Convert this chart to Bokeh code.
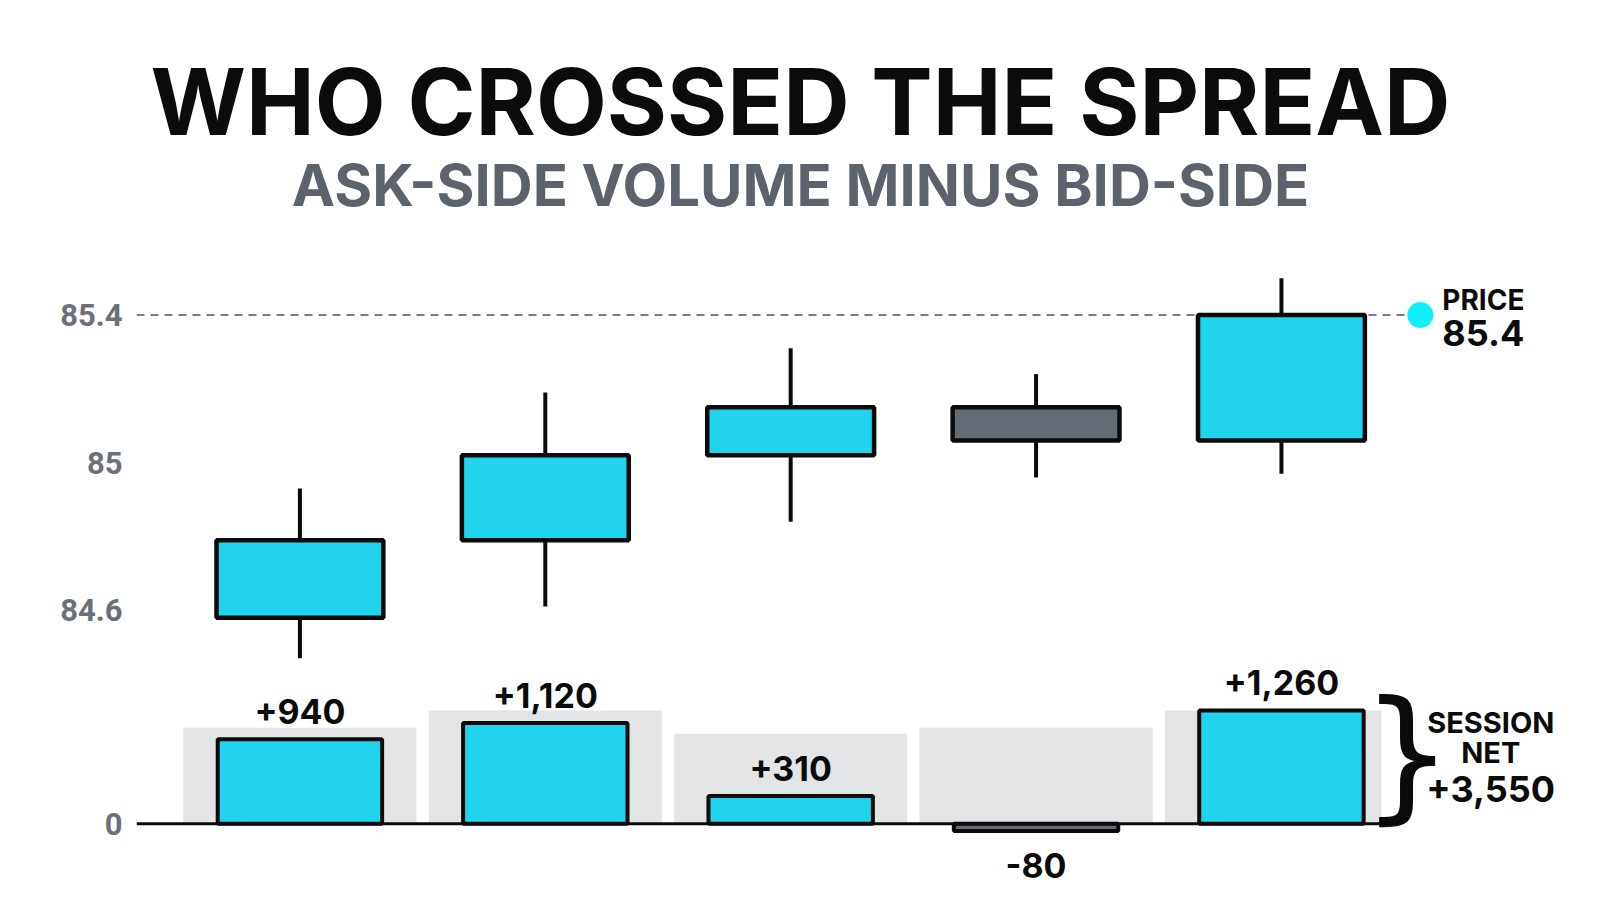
from bokeh.plotting import figure
from bokeh.models import Range1d, FixedTicker, ColumnDataSource, NumeralTickFormatter
from bokeh.layouts import column
from bokeh.embed import file_html
from bokeh.resources import INLINE
from bokeh.core.properties import value

# ---------------- data ----------------
sessions = [0, 1, 2, 3, 4]
opens = [84.58, 84.79, 85.02, 85.15, 85.06]
closes = [84.79, 85.02, 85.15, 85.06, 85.40]
highs = [84.93, 85.19, 85.31, 85.24, 85.50]
lows = [84.47, 84.61, 84.84, 84.96, 84.97]
net_delta = [940, 1120, 310, -80, 1260]
backdrop = [1067, 1260, 1000, 1067, 1260]
price_ticks = [84.6, 85.0, 85.4]
delta_ticks = [0]

TITLE = "WHO CROSSED THE SPREAD"
SUBTITLE = "ASK-SIDE VOLUME MINUS BID-SIDE"

# ---------------- style ----------------
CYAN = "#22d3ee"
DOWN = "#646b74"
DOT = "#12eefc"
GREY_BG = "#e2e4e6"
AXIS_GREY = "#6b7079"
SUB_GREY = "#5d636c"
INK = "#0b0b0b"
FONT = "Inter"
W = 1596
LEFT = 136

up = [c >= o for o, c in zip(opens, closes)]
last = sessions[-1]
last_close = closes[-1]

xr = Range1d(-0.666, 5.284)

def style(p):
    p.xaxis.visible = False
    p.grid.visible = False
    p.outline_line_color = None
    p.background_fill_color = "white"
    p.border_fill_color = "white"
    ax = p.yaxis[0]
    ax.axis_line_color = None
    ax.major_tick_line_color = None
    ax.minor_tick_line_color = None
    ax.major_label_text_font = "Roboto"
    ax.major_label_text_font_style = "bold"
    ax.major_label_text_font_size = "31px"
    ax.major_label_text_color = AXIS_GREY
    ax.major_label_standoff = 8
    ax.formatter = NumeralTickFormatter(format="0.[0]")

# ---------------- title strip ----------------
pt = figure(width=W, height=250, x_range=Range1d(LEFT, W), y_range=Range1d(250, 0),
            output_backend="svg", toolbar_location=None,
            x_axis_location=None, y_axis_location=None,
            min_border_left=LEFT, min_border_right=0, min_border_top=0, min_border_bottom=0)
pt.grid.visible = False
pt.outline_line_color = None
pt.text(x=[800], y=[101], text=[TITLE], text_align="center", text_baseline="middle",
        text_font=value(FONT), text_font_style="bold", text_font_size="92px", text_color=INK)
pt.text(x=[800], y=[184], text=[SUBTITLE], text_align="center", text_baseline="middle",
        text_font=value(FONT), text_font_style="bold", text_font_size="58px",
        text_color=SUB_GREY)

# ---------------- price panel ----------------
p1 = figure(width=W, height=409, x_range=xr, y_range=Range1d(84.4667, 85.575),
            output_backend="svg", toolbar_location=None,
            min_border_left=LEFT, min_border_right=0, min_border_bottom=0, min_border_top=0)
style(p1)
p1.yaxis[0].ticker = FixedTicker(ticks=price_ticks)

dot_x = last + 0.566
p1.segment(x0=[xr.start], y0=[last_close], x1=[dot_x - 0.05], y1=[last_close],
           line_color="#7a7f86", line_width=2, line_dash="8 6")

src = ColumnDataSource(dict(
    x=sessions, o=opens, c=closes, h=highs, l=lows,
    top=[max(o, c) for o, c in zip(opens, closes)],
    bot=[min(o, c) for o, c in zip(opens, closes)],
    fill=[CYAN if u else DOWN for u in up],
))
p1.segment(x0="x", y0="l", x1="x", y1="h", source=src, line_color=INK, line_width=4)
p1.vbar(x="x", width=0.68, top="top", bottom="bot", source=src,
        fill_color="fill", line_color=INK, line_width=4.5)

p1.scatter(x=[dot_x], y=[last_close], size=26, fill_color=DOT, line_color=None)
p1.text(x=[dot_x], y=[last_close], text=["PRICE"], x_offset=22, y_offset=2,
        text_align="left", text_baseline="bottom", text_font=value(FONT),
        text_font_style="bold", text_font_size="28px", text_color=INK)
p1.text(x=[dot_x], y=[last_close], text=[f"{last_close:g}"], x_offset=22, y_offset=5,
        text_align="left", text_baseline="top", text_font=value(FONT),
        text_font_style="bold", text_font_size="36px", text_color=INK)

# ---------------- delta panel ----------------
p2 = figure(width=W, height=249, x_range=xr, y_range=Range1d(-941, 1826),
            output_backend="svg", toolbar_location=None,
            min_border_left=LEFT, min_border_right=0, min_border_bottom=0, min_border_top=0)
style(p2)
p2.yaxis[0].ticker = FixedTicker(ticks=delta_ticks)

baseline_end = last + 0.408
bg_half = 0.475
p2.quad(left=[s - bg_half for s in sessions],
        right=[min(s + bg_half, baseline_end) for s in sessions],
        top=backdrop, bottom=[0] * len(sessions), fill_color=GREY_BG, line_color=None)

dsrc = ColumnDataSource(dict(
    x=sessions, v=net_delta,
    fill=[CYAN if v >= 0 else DOWN for v in net_delta],
    label=[f"{v:+,}" for v in net_delta],
    base=["bottom" if v >= 0 else "top" for v in net_delta],
    off=[-15 if v >= 0 else 22 for v in net_delta],
))
p2.vbar(x="x", width=0.67, top="v", bottom=0, source=dsrc,
        fill_color="fill", line_color=INK, line_width=4)
p2.segment(x0=[xr.start], y0=[0], x1=[baseline_end], y1=[0], line_color=INK, line_width=3)
p2.text(x="x", y="v", text="label", y_offset="off", text_baseline="base", source=dsrc,
        text_align="center", text_font=value(FONT), text_font_style="bold",
        text_font_size="34px", text_color=INK)

net_total = sum(net_delta)
p2.text(x=[last + 0.512], y=[0], y_offset=-70, text=["}"], text_align="center",
        text_baseline="middle", text_font=value("DejaVu Sans"), text_font_size="145px",
        text_color=INK)
p2.text(x=[last + 0.853] * 3, y=[0] * 3, y_offset=[-101, -71, -35],
        text=["SESSION", "NET", f"{net_total:+,}"],
        text_font_size=["29px", "29px", "36px"],
        text_align="center", text_baseline="middle", text_font=value(FONT),
        text_font_style="bold", text_color=INK)

layout = column(pt, p1, p2, spacing=0)
open("out.html", "w").write(file_html(layout, INLINE))
